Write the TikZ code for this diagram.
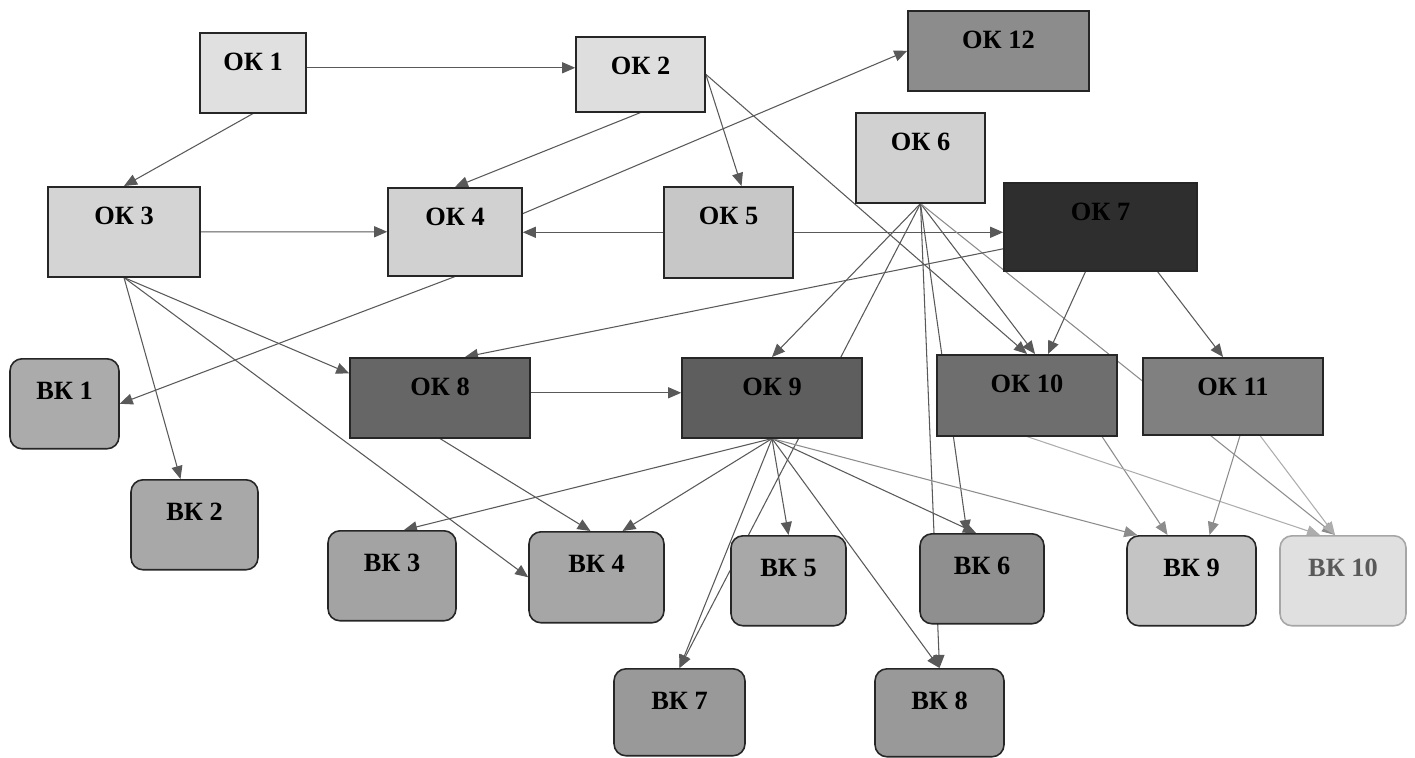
\documentclass[tikz,border=0pt]{standalone}
\usepackage{fontspec}
\setmainfont{Liberation Serif}
\usetikzlibrary{arrows.meta,calc}
\pgfdeclarelayer{bg}
\pgfdeclarelayer{edges}
\pgfsetlayers{bg,edges,main}
\tikzset{
  okbox/.style={draw=black!85, line width=.9pt, anchor=north, inner xsep=2pt,
    inner ysep=.36cm, text height=.4cm, font=\bfseries\fontsize{15}{18}\selectfont},
  vkbox/.style={okbox, rounded corners=.24cm, inner ysep=.42cm},
  arr/.style={draw=black!65, line width=.6pt, -{Triangle[length=2.6mm,width=2.2mm]}},
  arrlight/.style={arr, draw=black!45},
  arrpale/.style={arr, draw=black!32},
}
\begin{document}
\begin{tikzpicture}[x=0.02cm, y=-0.02cm]
  \useasboundingbox (0,0) rectangle (1415,757);
  \begin{pgfonlayer}{bg}
    \fill[white] (0,0) rectangle (1415,757);
  \end{pgfonlayer}

  %% top row
  \node[okbox, fill=black!12, minimum width=2.12cm, text depth=.48cm] (ok1) at (253,32) {ОК 1};
  \node[okbox, fill=black!13, minimum width=2.58cm, text depth=.38cm] (ok2) at (640.5,36) {ОК 2};
  \node[okbox, fill=black!45, minimum width=3.62cm, text depth=.48cm] (ok12) at (998.5,10) {ОК 12};
  \node[okbox, fill=black!18, minimum width=2.58cm, text depth=.68cm] (ok6) at (920.5,112) {ОК 6};
  %% second row
  \node[okbox, fill=black!17, minimum width=3.04cm, text depth=.68cm] (ok3) at (124,186) {ОК 3};
  \node[okbox, fill=black!18, minimum width=2.68cm, text depth=.64cm] (ok4) at (455,187) {ОК 4};
  \node[okbox, fill=black!22, minimum width=2.58cm, text depth=.70cm] (ok5) at (728.5,186) {ОК 5};
  \node[okbox, fill=black!82, minimum width=3.86cm, text depth=.64cm] (ok7) at (1100.5,182) {ОК 7};
  %% third row
  \node[vkbox, fill=black!33, minimum width=2.18cm, text depth=.56cm] (bk1) at (64.5,358) {ВК 1};
  \node[okbox, fill=black!60, minimum width=3.6cm, text depth=.48cm] (ok8) at (440,357) {ОК 8};
  \node[okbox, fill=black!63, minimum width=3.6cm, text depth=.48cm] (ok9) at (772,357) {ОК 9};
  \node[okbox, fill=black!57, minimum width=3.6cm, text depth=.50cm] (ok10) at (1027,354) {ОК 10};
  \node[okbox, fill=black!50, minimum width=3.6cm, text depth=.42cm] (ok11) at (1233,357) {ОК 11};
  %% leaves
  \node[vkbox, fill=black!34, minimum width=2.54cm, text depth=.56cm] (bk2) at (194.5,479) {ВК 2};
  \node[vkbox, fill=black!36, minimum width=2.56cm, text depth=.56cm] (bk3) at (392,530) {ВК 3};
  \node[vkbox, fill=black!35, minimum width=2.7cm, text depth=.58cm] (bk4) at (596.5,531) {ВК 4};
  \node[vkbox, fill=black!34, minimum width=2.3cm, text depth=.56cm] (bk5) at (788.5,535) {ВК 5};
  \node[vkbox, fill=black!44, minimum width=2.48cm, text depth=.56cm] (bk6) at (982,533) {ВК 6};
  \node[vkbox, fill=black!23, minimum width=2.58cm, text depth=.56cm] (bk9) at (1191.5,535) {ВК 9};
  \node[vkbox, fill=black!12, draw=black!35, text=black!65, minimum width=2.52cm, text depth=.56cm] (bk10) at (1343,535) {ВК 10};
  \node[vkbox, fill=black!40, minimum width=2.62cm, text depth=.50cm] (bk7) at (679.5,668) {ВК 7};
  \node[vkbox, fill=black!40, minimum width=2.58cm, text depth=.52cm] (bk8) at (939.5,668) {ВК 8};

  \begin{pgfonlayer}{edges}
    %% top row
    \draw[arr] ($(ok1.east)+(0,-5)$) to ($(ok1.east -| ok2.west)+(0,-5)$);
    \draw[arr] (ok1.south) to (ok3.north);
    \draw[arr] (ok2.south) to (ok4.north);
    \draw[arr] (ok2.east) to ($(ok5.north)+(13,0)$);
    \draw[arr] (ok2.east) to (ok10.north);
    \draw[arr] (ok3.east) to (ok4.west);
    \draw[arr] (ok4.15) to (ok12.west);
    \draw[arr] (ok5.west) to (ok5.west -| ok4.east);
    \draw[arr] (ok5.east) to (ok5.east -| ok7.west);
    %% from ok6
    \draw[arr] (ok6.south) to (ok9.north);
    \draw[arr] (ok6.south) to (bk7.north);
    \draw[arr] (ok6.south) to (bk8.north);
    \draw[arr] (ok6.south) to ($(bk6.north)+(-15,0)$);
    \draw[arr] (ok6.south) to ($(ok10.north)+(8,0)$);
    \draw[arrlight] (ok6.south) to ($(bk10.north)+(-8,0)$);
    %% from ok7
    \draw[arr] ($(ok7.west)+(0,22)$) to ($(ok8.north)+(25,0)$);
    \draw[arr] ($(ok7.south)+(-15,0)$) to ($(ok10.north)+(21,0)$);
    \draw[arr] ($(ok7.south)+(57,0)$) to ($(ok11.north)+(-10,0)$);
    %% from ok3, ok4
    \draw[arr] (ok3.south) to ($(bk2.north)+(-14,0)$);
    \draw[arr] (ok3.south) to (ok8.165);
    \draw[arr] (ok3.south) to (bk4.west);
    \draw[arr] (ok4.south) to (bk1.east);
    %% from ok8, ok9
    \draw[arr] ($(ok8.east)+(0,-5)$) to ($(ok8.east -| ok9.west)+(0,-5)$);
    \draw[arr] (ok8.south) to ($(bk4.north)+(-6,0)$);
    \draw[arr] (ok9.south) to ($(bk3.north)+(12,0)$);
    \draw[arr] (ok9.south) to ($(bk4.north)+(26,0)$);
    \draw[arr] (ok9.south) to (bk5.north);
    \draw[arr] (ok9.south) to ($(bk6.north)+(-6,0)$);
    \draw[arr] (ok9.south) to (bk7.north);
    \draw[arr] (ok9.south) to (bk8.north);
    \draw[arrlight] (ok9.south) to ($(bk9.north west)+(11,0)$);
    %% from ok10, ok11
    \draw[arrlight] ($(ok10.south)+(75,0)$) to ($(bk9.north)+(-24,0)$);
    \draw[arrpale] (ok10.south) to ($(bk10.north)+(-23,0)$);
    \draw[arrlight] ($(ok11.south)+(7,0)$) to ($(bk9.north)+(18,0)$);
    \draw[arrpale] ($(ok11.south)+(27,0)$) to ($(bk10.north)+(-8,0)$);
  \end{pgfonlayer}
\end{tikzpicture}
\end{document}
